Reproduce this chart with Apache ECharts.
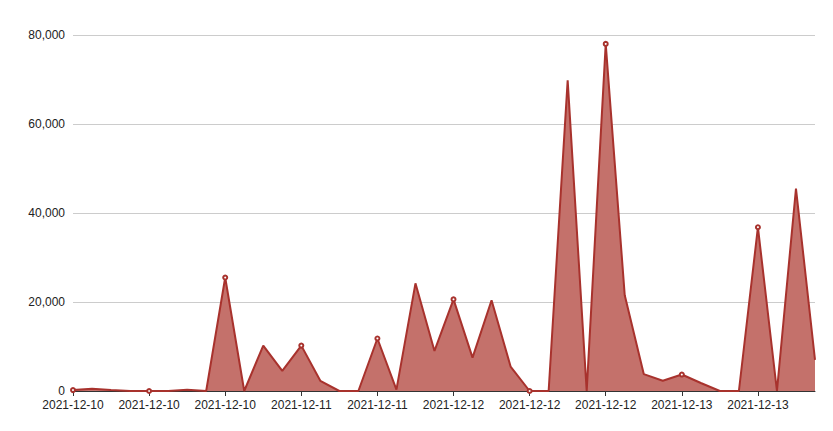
<!DOCTYPE html>
<html>
<head>
<meta charset="utf-8">
<script src="https://cdn.jsdelivr.net/npm/echarts@6/dist/echarts.min.js"></script>
<style>html,body{margin:0;padding:0;background:#fff}#chart{width:833px;height:431px}</style>
</head>
<body>
<div id="chart"></div>
<script>
var dates = [
  '2021-12-10','2021-12-10','2021-12-10','2021-12-10','2021-12-10','2021-12-10','2021-12-10','2021-12-10','2021-12-10','2021-12-10','2021-12-10','2021-12-10',
  '2021-12-11','2021-12-11','2021-12-11','2021-12-11','2021-12-11','2021-12-11','2021-12-11','2021-12-11',
  '2021-12-12','2021-12-12','2021-12-12','2021-12-12','2021-12-12','2021-12-12','2021-12-12','2021-12-12','2021-12-12','2021-12-12','2021-12-12','2021-12-12',
  '2021-12-13','2021-12-13','2021-12-13','2021-12-13','2021-12-13','2021-12-13','2021-12-13','2021-12-13'
];
var values = [
  200, 500, 200, 0, 0, 0, 300, 0, 25500, 0,
  10200, 4500, 10200, 2300, 0, 0, 11800, 300, 24200, 9000,
  20600, 7500, 20400, 5500, 0, 0, 69800, 0, 78000, 21500,
  3800, 2300, 3700, 1800, 0, 0, 36800, 0, 45500, 7000
];

var chart = echarts.init(document.getElementById('chart'), null, { renderer: 'svg' });
chart.setOption({
  animation: false,
  grid: { left: 73, right: 18, top: 35, bottom: 40 },
  xAxis: {
    type: 'category',
    boundaryGap: false,
    data: dates,
    axisLine: { lineStyle: { color: '#333' } },
    axisTick: { interval: 3, lineStyle: { color: '#333' } },
    axisLabel: { interval: 3, color: '#222', fontSize: 12, fontFamily: 'Helvetica, Arial, sans-serif' }
  },
  yAxis: {
    type: 'value',
    min: 0,
    max: 80000,
    interval: 20000,
    axisLine: { show: false },
    axisTick: { show: false },
    axisLabel: { color: '#222', fontSize: 12, fontFamily: 'Helvetica, Arial, sans-serif' },
    splitLine: { lineStyle: { color: '#ccc' } }
  },
  series: [{
    type: 'line',
    data: values,
    symbol: 'emptyCircle',
    symbolSize: 4,
    showAllSymbol: false,
    lineStyle: { color: '#a8322d', width: 2 },
    itemStyle: { color: '#a8322d' },
    areaStyle: { color: '#c4716b', opacity: 1 }
  }]
});
</script>
</body>
</html>
